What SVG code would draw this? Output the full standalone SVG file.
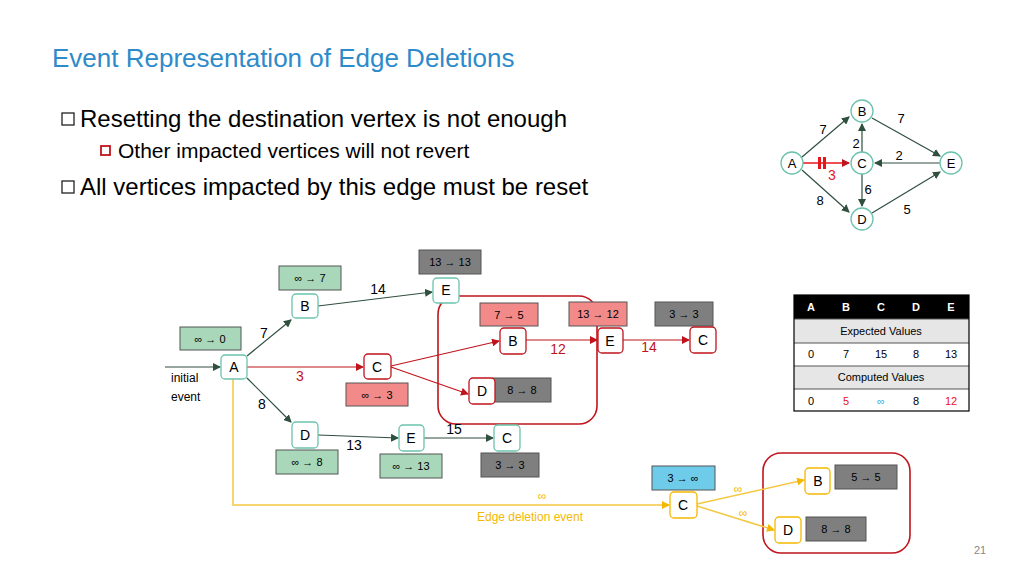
<svg xmlns="http://www.w3.org/2000/svg" width="1024" height="576" viewBox="0 0 1024 576">
<defs>
<style>
text{font-family:"Liberation Sans",Arial,sans-serif}
.n rect{fill:#fff;stroke:#6cc3ad;stroke-width:1.3}
.n text{font-size:14px;text-anchor:middle}
.r rect{stroke:#c0141c}
.y rect{stroke:#f5b800}
.lb{font-size:11px;text-anchor:middle}
.g{fill:#a8d8b9;stroke:#555}
.k{fill:#7f7f7f;stroke:#555}
.p{fill:#f28a8a;stroke:#555}
.c circle{fill:#fff;stroke:#6cc3ad;stroke-width:1.3}
.c text{font-size:13px;text-anchor:middle}
.e{font-size:14px}
</style>
<marker id="ad" markerWidth="8" markerHeight="8" refX="7" refY="4" orient="auto" markerUnits="userSpaceOnUse"><path d="M0,0L8,4L0,8z" fill="#2f4f3f"/></marker>
<marker id="ar" markerWidth="8" markerHeight="8" refX="7" refY="4" orient="auto" markerUnits="userSpaceOnUse"><path d="M0,0L8,4L0,8z" fill="#c0141c"/></marker>
<marker id="ay" markerWidth="8" markerHeight="8" refX="7" refY="4" orient="auto" markerUnits="userSpaceOnUse"><path d="M0,0L8,4L0,8z" fill="#f5b800"/></marker>
</defs>
<rect width="1024" height="576" fill="#fff"/>
<text x="52" y="67" font-size="26" fill="#2e8bc9">Event Representation of Edge Deletions</text>
<rect x="62" y="113" width="12" height="12" fill="none" stroke="#222" stroke-width="1.3"/>
<text x="80" y="127" font-size="24">Resetting the destination vertex is not enough</text>
<rect x="101" y="146" width="9" height="9" fill="none" stroke="#c0141c" stroke-width="1.8"/>
<text x="118" y="158" font-size="21">Other impacted vertices will not revert</text>
<rect x="62" y="181" width="12" height="12" fill="none" stroke="#222" stroke-width="1.3"/>
<text x="80" y="195" font-size="24">All vertices impacted by this edge must be reset</text>

<!-- mini graph -->
<g id="mini-edges" stroke="#2f4f3f" stroke-width="1.2" fill="none">
<line x1="802" y1="157" x2="849" y2="117" marker-end="url(#ad)"/>
<line x1="872" y1="118" x2="940" y2="156" marker-end="url(#ad)"/>
<line x1="862" y1="152" x2="862" y2="124" marker-end="url(#ad)"/>
<line x1="940" y1="163" x2="875" y2="163" marker-end="url(#ad)"/>
<line x1="862" y1="174" x2="862" y2="206" marker-end="url(#ad)"/>
<line x1="802" y1="170" x2="849" y2="212" marker-end="url(#ad)"/>
<line x1="872" y1="213" x2="940" y2="172" marker-end="url(#ad)"/>
<line x1="803" y1="163" x2="849" y2="163" stroke="#e8141c" stroke-width="1.5" marker-end="url(#ar)"/>
<rect x="818" y="157" width="3" height="12" fill="#e8141c" stroke="none"/>
<rect x="823" y="157" width="3" height="12" fill="#e8141c" stroke="none"/>
</g>
<g class="c" id="mB"><circle cx="862" cy="111" r="11"/><text x="862" y="116">B</text></g>
<g class="c" id="mA"><circle cx="792" cy="163" r="11"/><text x="792" y="168">A</text></g>
<g class="c" id="mC"><circle cx="862" cy="163" r="11"/><text x="862" y="168">C</text></g>
<g class="c" id="mE"><circle cx="951" cy="163" r="11"/><text x="951" y="168">E</text></g>
<g class="c" id="mD"><circle cx="862" cy="219" r="11"/><text x="862" y="224">D</text></g>
<g font-size="13" text-anchor="middle">
<text x="823" y="134">7</text><text x="901" y="123">7</text><text x="856" y="148">2</text><text x="899" y="160">2</text>
<text x="832" y="180" fill="#e8141c" font-size="14">3</text><text x="868" y="194">6</text><text x="820" y="205">8</text><text x="907" y="214">5</text>
</g>

<!-- red groups -->
<rect x="438" y="296" width="159" height="128" rx="18" fill="none" stroke="#c0141c" stroke-width="1.6"/>
<rect x="763" y="453" width="147" height="100" rx="18" fill="none" stroke="#c0141c" stroke-width="1.6"/>

<!-- connectors -->
<g id="connectors" fill="none" stroke-width="1.2">
<g stroke="#2f4f3f">
<line x1="165" y1="367" x2="220" y2="367" marker-end="url(#ad)"/>
<line x1="247" y1="356" x2="291" y2="320" marker-end="url(#ad)"/>
<line x1="318" y1="306" x2="432" y2="292" marker-end="url(#ad)"/>
<line x1="247" y1="378" x2="291" y2="422" marker-end="url(#ad)"/>
<line x1="318" y1="435" x2="398" y2="438" marker-end="url(#ad)"/>
<line x1="424" y1="438" x2="493" y2="438" marker-end="url(#ad)"/>
</g>
<g stroke="#c0141c">
<line x1="247" y1="367" x2="363" y2="367" marker-end="url(#ar)"/>
<line x1="391" y1="366" x2="499" y2="341" marker-end="url(#ar)"/>
<line x1="391" y1="367" x2="468" y2="394" marker-end="url(#ar)"/>
<line x1="526" y1="340" x2="597" y2="340" marker-end="url(#ar)"/>
<line x1="623" y1="340" x2="689" y2="340" marker-end="url(#ar)"/>
</g>
<g stroke="#f5c842" stroke-width="1.5">
<polyline points="233,379 233,505 669,505" marker-end="url(#ay)"/>
<line x1="697" y1="504" x2="804" y2="480" marker-end="url(#ay)"/>
<line x1="697" y1="506" x2="774" y2="530" marker-end="url(#ay)"/>
</g>
</g>
<g class="e" text-anchor="middle">
<text x="264" y="338">7</text><text x="378" y="294">14</text><text x="300" y="381" fill="#c0141c">3</text>
<text x="262" y="409">8</text><text x="354" y="450">13</text><text x="454" y="434">15</text>
<text x="558" y="354" fill="#c0141c">12</text><text x="649" y="352" fill="#c0141c">14</text>
</g>
<text x="171" y="382" font-size="12">initial</text>
<text x="171" y="401" font-size="12">event</text>
<g fill="#f5b800" text-anchor="middle" font-size="12">
<text x="542" y="500">∞</text><text x="530" y="521">Edge deletion event</text>
<text x="738" y="493">∞</text><text x="743" y="517">∞</text>
</g>

<!-- value labels -->
<g id="labels" stroke-width="1">
<rect class="g" x="279" y="266" width="62" height="24"/><text class="lb" x="310" y="282">∞ → 7</text>
<rect class="g" x="180" y="327" width="61" height="23"/><text class="lb" x="210" y="343">∞ → 0</text>
<rect class="k" x="419" y="250" width="62" height="24"/><text class="lb" x="450" y="266">13 → 13</text>
<rect class="p" x="480" y="303" width="58" height="23"/><text class="lb" x="509" y="319">7 → 5</text>
<rect class="p" x="569" y="302" width="58" height="24"/><text class="lb" x="598" y="318">13 → 12</text>
<rect class="k" x="655" y="302" width="58" height="24"/><text class="lb" x="684" y="318">3 → 3</text>
<rect class="p" x="346" y="383" width="62" height="23"/><text class="lb" x="377" y="399">∞ → 3</text>
<rect class="k" x="493" y="378" width="58" height="24"/><text class="lb" x="522" y="394">8 → 8</text>
<rect class="g" x="276" y="450" width="62" height="24"/><text class="lb" x="307" y="466">∞ → 8</text>
<rect class="g" x="380" y="454" width="62" height="24"/><text class="lb" x="411" y="470">∞ → 13</text>
<rect class="k" x="481" y="453" width="58" height="24"/><text class="lb" x="510" y="469">3 → 3</text>
<rect x="652" y="466" width="63" height="24" fill="#6fcbea" stroke="#555"/><text class="lb" x="683" y="482">3 → ∞</text>
<rect class="k" x="835" y="465" width="62" height="24"/><text class="lb" x="866" y="481">5 → 5</text>
<rect class="k" x="806" y="517" width="60" height="24"/><text class="lb" x="836" y="533">8 → 8</text>
</g>

<!-- nodes -->
<g class="n" id="nA"><rect x="221" y="355" width="26" height="24" rx="4"/><text x="234" y="372">A</text></g>
<g class="n" id="nB"><rect x="292" y="294" width="26" height="24" rx="4"/><text x="305" y="311">B</text></g>
<g class="n" id="nE1"><rect x="433" y="278" width="26" height="25" rx="4"/><text x="446" y="295">E</text></g>
<g class="n r" id="nC1"><rect x="364" y="354" width="27" height="25" rx="4"/><text x="377" y="372">C</text></g>
<g class="n r" id="nB2"><rect x="500" y="328" width="26" height="26" rx="4"/><text x="513" y="346">B</text></g>
<g class="n r" id="nD2"><rect x="469" y="378" width="26" height="26" rx="4"/><text x="482" y="396">D</text></g>
<g class="n r" id="nE2"><rect x="598" y="328" width="25" height="25" rx="4"/><text x="610" y="346">E</text></g>
<g class="n r" id="nC2"><rect x="690" y="327" width="26" height="26" rx="4"/><text x="703" y="345">C</text></g>
<g class="n" id="nD3"><rect x="292" y="422" width="26" height="26" rx="4"/><text x="305" y="440">D</text></g>
<g class="n" id="nE3"><rect x="399" y="425" width="25" height="26" rx="4"/><text x="411" y="443">E</text></g>
<g class="n" id="nC3"><rect x="494" y="425" width="26" height="26" rx="4"/><text x="507" y="443">C</text></g>
<g class="n y" id="nC4"><rect x="670" y="492" width="27" height="26" rx="4"/><text x="683" y="510">C</text></g>
<g class="n y" id="nB4"><rect x="805" y="468" width="25" height="26" rx="4"/><text x="818" y="486">B</text></g>
<g class="n y" id="nD4"><rect x="775" y="517" width="26" height="26" rx="4"/><text x="788" y="535">D</text></g>

<!-- table -->
<g id="table" font-size="11" text-anchor="middle">
<rect x="794" y="295" width="175" height="24" fill="#000"/>
<g fill="#fff" font-weight="bold"><text x="811" y="311">A</text><text x="846" y="311">B</text><text x="881" y="311">C</text><text x="916" y="311">D</text><text x="951" y="311">E</text></g>
<rect x="794" y="319" width="175" height="24" fill="#e6e6e6"/>
<text x="881" y="335">Expected Values</text>
<text x="811" y="358">0</text><text x="846" y="358">7</text><text x="881" y="358">15</text><text x="916" y="358">8</text><text x="951" y="358">13</text>
<rect x="794" y="366" width="175" height="23" fill="#e6e6e6"/>
<text x="881" y="381">Computed Values</text>
<text x="811" y="405">0</text><text x="846" y="405" fill="#e8141c">5</text><text x="881" y="405" fill="#2eb4e8">∞</text><text x="916" y="405">8</text><text x="951" y="405" fill="#e8141c">12</text>
<g stroke="#555" stroke-width="1.2"><line x1="794" y1="319" x2="969" y2="319"/><line x1="794" y1="343" x2="969" y2="343"/><line x1="794" y1="366" x2="969" y2="366"/><line x1="794" y1="389" x2="969" y2="389"/></g>
<rect x="794" y="295" width="175" height="116" fill="none" stroke="#000" stroke-width="1.2"/>
</g>
<text x="980" y="554" font-size="11" fill="#888" text-anchor="middle">21</text>
</svg>
